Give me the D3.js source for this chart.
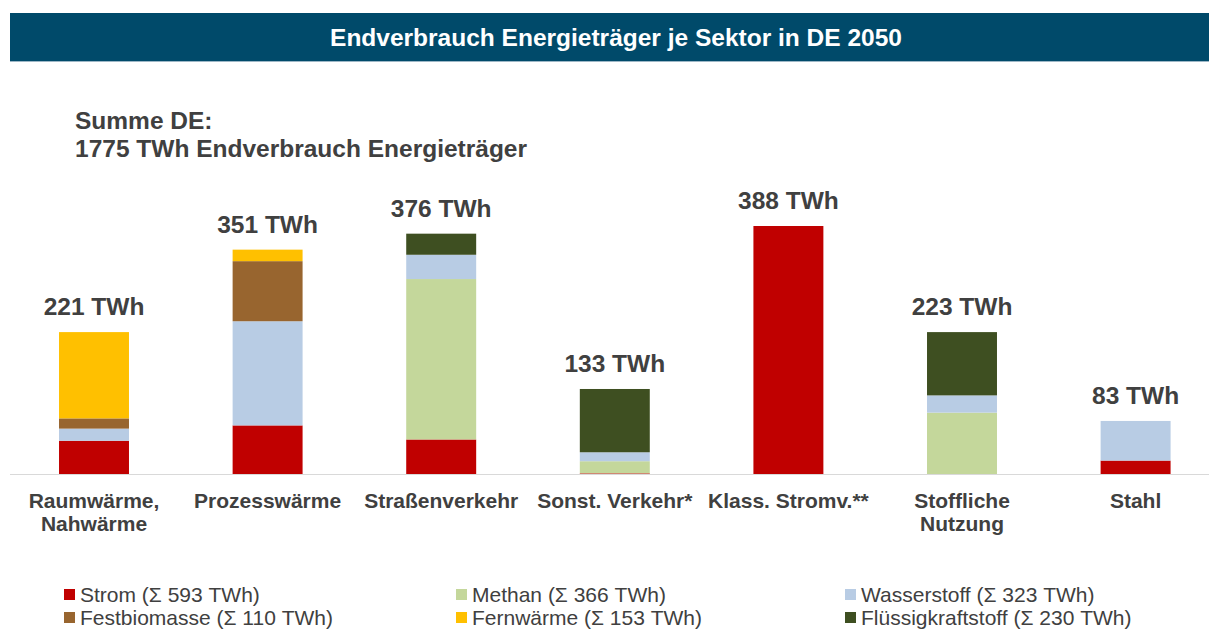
<!DOCTYPE html>
<html lang="de">
<head>
  <meta charset="UTF-8">
  <title>Endverbrauch Energieträger je Sektor in DE 2050</title>
  <style type="text/css" media="all">
    html, body {
      margin: 0;
      padding: 0;
      background: #fff;
    }
    #graph text {
      font-family: "Liberation Sans", Arial, sans-serif;
      fill: #404040;
    }
  </style>
</head>
<body>

  <div id="graph"></div>
  <script src="https://cdn.jsdelivr.net/npm/d3@7/dist/d3.min.js" charset="utf-8"></script>
  <script>
    // sectors (x axis), lines split for the two-row labels
    var sectors = ['Raumwärme', 'Prozesswärme', 'Straßenverkehr', 'Sonst. Verkehr', 'Klass. Stromv.', 'Stoffliche Nutzung', 'Stahl'];
    var sectorLabels = [
      ['Raumwärme,', 'Nahwärme'],
      ['Prozesswärme'],
      ['Straßenverkehr'],
      ['Sonst. Verkehr*'],
      ['Klass. Stromv.**'],
      ['Stoffliche', 'Nutzung'],
      ['Stahl']
    ];
    var sectorTotals = [221, 351, 376, 133, 388, 223, 83];

    // energy carriers, stacked bottom to top (TWh per sector)
    var carriers = ['Strom', 'Methan', 'Wasserstoff', 'Festbiomasse', 'Fernwärme', 'Flüssigkraftstoff'];
    var strom        = [52, 76, 54, 1, 388, 0, 21];
    var methan       = [0, 0, 251, 19, 0, 96, 0];
    var wasserstoff  = [19, 163, 38, 14, 0, 27, 62];
    var festbiomasse = [16, 94, 0, 0, 0, 0, 0];
    var fernwaerme   = [135, 18, 0, 0, 0, 0, 0];
    var fluessig     = [0, 0, 33, 99, 0, 99, 0];
    var carrierSums  = [593, 366, 323, 110, 153, 230];

    var colors = ['#C00000', '#C4D79B', '#B8CCE4', '#98652F', '#FFC000', '#3E4F21'];

    var width = 1209,
        height = 630,
        baseline = 474;

    var rows = sectors.map(function(s, i) {
      return {
        sector: s,
        Strom: strom[i],
        Methan: methan[i],
        Wasserstoff: wasserstoff[i],
        Festbiomasse: festbiomasse[i],
        'Fernwärme': fernwaerme[i],
        'Flüssigkraftstoff': fluessig[i]
      };
    });

    var svg = d3.select('#graph').append('svg')
        .attr('width', width)
        .attr('height', height);

    // header banner
    svg.append('rect')
        .attr('x', 10)
        .attr('y', 13)
        .attr('width', width - 10)
        .attr('height', 48)
        .attr('fill', '#004A6A');
    svg.append('line')
        .attr('x1', 10).attr('x2', width)
        .attr('y1', 61.5).attr('y2', 61.5)
        .attr('stroke', '#9DB7C6');
    svg.append('text')
        .attr('x', 616)
        .attr('y', 46)
        .attr('text-anchor', 'middle')
        .style('font-size', '24.5px')
        .style('font-weight', 'bold')
        .style('fill', '#fff')
        .text('Endverbrauch Energieträger je Sektor in DE 2050');

    // summary
    var summary = svg.append('text')
        .attr('x', 75)
        .style('font-size', '24.5px')
        .style('font-weight', 'bold');
    summary.append('tspan').attr('x', 75).attr('y', 129).text('Summe DE:');
    summary.append('tspan').attr('x', 75).attr('y', 157).text('1775 TWh Endverbrauch Energieträger');

    var x = d3.scaleBand()
        .domain(sectors)
        .range([7.2, 1222.4])
        .paddingInner(0.597)
        .paddingOuter(0.2985);

    var y = d3.scaleLinear()
        .domain([0, 388])
        .range([baseline, 226]);

    var stack = d3.stack().keys(carriers);
    var series = stack(rows);

    svg.append('g')
      .selectAll('g')
      .data(series)
      .join('g')
        .attr('fill', function(d, i) { return colors[i]; })
      .selectAll('rect')
      .data(function(d) { return d; })
      .join('rect')
        .attr('x', function(d) { return x(d.data.sector); })
        .attr('y', function(d) { return y(d[1]); })
        .attr('width', x.bandwidth())
        .attr('height', function(d) { return y(d[0]) - y(d[1]); });

    // axis line
    svg.append('line')
        .attr('x1', 10).attr('x2', width)
        .attr('y1', baseline + 0.5).attr('y2', baseline + 0.5)
        .attr('stroke', '#D9D9D9')
        .attr('stroke-width', 1);

    // totals above bars
    var stackTop = series[series.length - 1];
    svg.append('g')
      .selectAll('text')
      .data(stackTop)
      .join('text')
        .attr('x', function(d) { return x(d.data.sector) + x.bandwidth() / 2; })
        .attr('y', function(d) { return y(d[1]) - 17; })
        .attr('text-anchor', 'middle')
        .style('font-size', '24.5px')
        .style('font-weight', 'bold')
        .text(function(d, i) { return sectorTotals[i] + ' TWh'; });

    // category labels
    var cats = svg.append('g')
      .selectAll('text')
      .data(sectors)
      .join('text')
        .attr('text-anchor', 'middle')
        .style('font-size', '21px')
        .style('font-weight', 'bold');
    cats.each(function(s, i) {
      var t = d3.select(this);
      sectorLabels[i].forEach(function(line, j) {
        t.append('tspan')
            .attr('x', x(s) + x.bandwidth() / 2)
            .attr('y', 508 + j * 23)
            .text(line);
      });
    });

    // legend
    var legendX = [64, 456, 845],
        legendY = [594, 617];
    var legend = svg.append('g')
      .selectAll('g')
      .data(carriers)
      .join('g')
        .attr('transform', function(d, i) {
          return 'translate(' + legendX[i % 3] + ',' + legendY[Math.floor(i / 3)] + ')';
        });
    legend.append('rect')
        .attr('x', 0)
        .attr('y', -5)
        .attr('width', 11)
        .attr('height', 11)
        .attr('fill', function(d, i) { return colors[i]; });
    legend.append('text')
        .attr('x', 16)
        .attr('y', 7.5)
        .style('font-size', '21px')
        .text(function(d, i) { return d + ' (Σ ' + carrierSums[i] + ' TWh)'; });
  </script>
</body>
</html>
